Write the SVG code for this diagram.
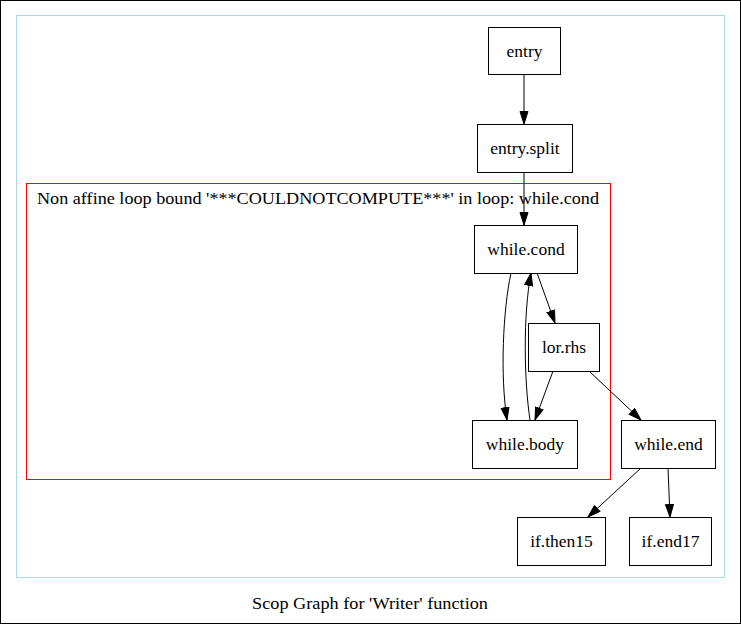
<svg xmlns="http://www.w3.org/2000/svg" width="741" height="624" viewBox="0 0 741 624">
<style>
text{font-family:"Liberation Serif","Times New Roman",serif;font-size:17.5px;fill:#000}
.n rect{fill:#fff;stroke:#000;stroke-width:1}
.n text{text-anchor:middle}
.e path{fill:none;stroke:#000;stroke-width:1}
</style>
<defs>
<marker id="ah" markerUnits="userSpaceOnUse" markerWidth="14" markerHeight="10" refX="13" refY="4.5" orient="auto">
<path d="M0.5,0.5 L13,4.5 L0.5,8.5 z" fill="#000" stroke="#000" stroke-width="1"/>
</marker>
</defs>
<rect x="0.5" y="0.5" width="740" height="623" fill="#fff" stroke="#000"/>
<g id="cluster-function">
<rect x="16.5" y="15.5" width="708" height="562" fill="none" stroke="#add8e6"/>
</g>
<g id="cluster-loop">
<rect x="26.5" y="183.5" width="584" height="296" fill="none" stroke="#ff0000"/>
<text x="37" y="204" textLength="562" lengthAdjust="spacingAndGlyphs">Non affine loop bound '***COULDNOTCOMPUTE***' in loop: while.cond</text>
</g>
<g id="edges" class="e">
<path d="M524,74 L524,124" marker-end="url(#ah)"/>
<path d="M524,172 L524,225" marker-end="url(#ah)"/>
<path d="M511,273 C503,310 500,375 507,420" marker-end="url(#ah)"/>
<path d="M530,420 C524,380 523,315 531,273" marker-end="url(#ah)"/>
<path d="M537,273 L555,323" marker-end="url(#ah)"/>
<path d="M553,371 L535,420" marker-end="url(#ah)"/>
<path d="M589,371 L641,420" marker-end="url(#ah)"/>
<path d="M641,468 L588,517" marker-end="url(#ah)"/>
<path d="M668,468 L670,517" marker-end="url(#ah)"/>
</g>
<g id="entry" class="n"><rect x="488.5" y="27.5" width="72" height="47"/><text x="524.5" y="57">entry</text></g>
<g id="entry.split" class="n"><rect x="477.5" y="124.5" width="95" height="48"/><text x="525" y="154">entry.split</text></g>
<g id="while.cond" class="n"><rect x="474.5" y="225.5" width="103" height="48"/><text x="526" y="255">while.cond</text></g>
<g id="lor.rhs" class="n"><rect x="528.5" y="323.5" width="71" height="48"/><text x="564" y="353">lor.rhs</text></g>
<g id="while.body" class="n"><rect x="472.5" y="420.5" width="105" height="48"/><text x="525" y="450">while.body</text></g>
<g id="while.end" class="n"><rect x="621.5" y="420.5" width="94" height="48"/><text x="668.5" y="450">while.end</text></g>
<g id="if.then15" class="n"><rect x="517.5" y="517.5" width="88" height="48"/><text x="561.5" y="547">if.then15</text></g>
<g id="if.end17" class="n"><rect x="629.5" y="517.5" width="82" height="48"/><text x="670.5" y="547">if.end17</text></g>
<text x="370" y="609" text-anchor="middle" textLength="236" lengthAdjust="spacingAndGlyphs">Scop Graph for 'Writer' function</text>
</svg>
